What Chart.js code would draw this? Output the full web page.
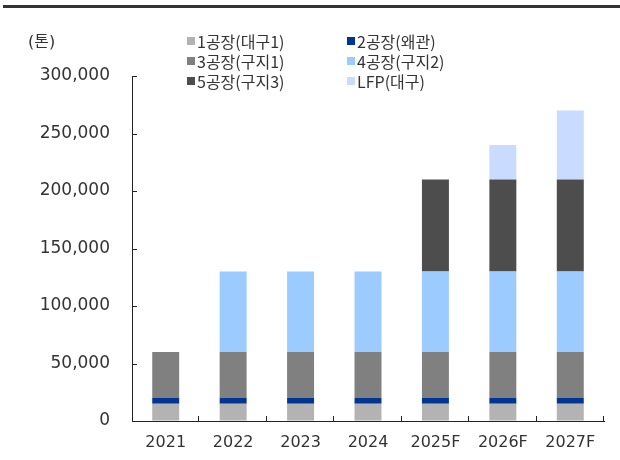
<!DOCTYPE html>
<html>
<head>
<meta charset="utf-8">
<script src="https://cdn.jsdelivr.net/npm/chart.js@4"></script>
<style>
	html, body { margin: 0; padding: 0; background: #fff; }
	#wrap { width: 620px; height: 460px; position: relative; }
</style>
</head>
<body>
<div id="wrap"><canvas id="capacityChart"></canvas></div>
<script>
	const years = ['2021', '2022', '2023', '2024', '2025F', '2026F', '2027F'];
	const seriesNames = ['1공장(대구1)', '2공장(왜관)', '3공장(구지1)', '4공장(구지2)', '5공장(구지3)', 'LFP(대구)'];
	const seriesColors = ['#b3b3b3', '#003591', '#808080', '#9ccbff', '#4d4d4d', '#c9dbff'];
	const plant1 = [15000, 15000, 15000, 15000, 15000, 15000, 15000];
	const plant2 = [5000, 5000, 5000, 5000, 5000, 5000, 5000];
	const plant3 = [40000, 40000, 40000, 40000, 40000, 40000, 40000];
	const plant4 = [0, 70000, 70000, 70000, 70000, 70000, 70000];
	const plant5 = [0, 0, 0, 0, 80000, 80000, 80000];
	const lfp = [0, 0, 0, 0, 0, 30000, 60000];
	const yTicks = [0, 50000, 100000, 150000, 200000, 250000, 300000];
	const unitLabel = '(톤)';

	const fontFamily = '"DejaVu Sans", "Noto Sans CJK KR", sans-serif';
	const textColor = '#333';
	const axisColor = '#222';

	const seriesValues = [plant1, plant2, plant3, plant4, plant5, lfp];
	const numberFormatter = new Intl.NumberFormat('en-US');

	// top rule, unit label, two-column legend and inward tick marks
	const decorPlugin = {
		id: 'decor',
		afterDraw(chart) {
			const ctx = chart.ctx;
			const area = chart.chartArea;
			ctx.save();

			ctx.fillStyle = '#333';
			ctx.fillRect(3, 5, 617, 3);

			ctx.fillStyle = textColor;
			ctx.font = '16px ' + fontFamily;
			ctx.textBaseline = 'middle';
			ctx.textAlign = 'left';
			ctx.fillText(unitLabel, 28, 43);

			chart.data.datasets.forEach((ds, i) => {
				const col = i % 2;
				const row = Math.floor(i / 2);
				const x = col === 0 ? 187 : 347;
				const y = 41 + row * 20;
				ctx.fillStyle = ds.backgroundColor;
				ctx.fillRect(x, y - 4, 8, 8);
				ctx.fillStyle = textColor;
				ctx.font = '16px "Noto Sans CJK KR", ' + fontFamily;
				ctx.fillText(ds.label, x + 10, y + 1);
			});

			ctx.strokeStyle = axisColor;
			ctx.lineWidth = 1;
			ctx.beginPath();
			const yScale = chart.scales.y;
			yScale.ticks.forEach((t) => {
				const py = Math.round(yScale.getPixelForValue(t.value)) + 0.5;
				ctx.moveTo(area.left, py);
				ctx.lineTo(area.left + 5, py);
			});
			const xScale = chart.scales.x;
			const step = (area.right - area.left) / years.length;
			for (let i = 1; i <= years.length; i++) {
				const px = Math.round(area.left + step * i) - 0.5;
				ctx.moveTo(px, area.bottom);
				ctx.lineTo(px, area.bottom - 5);
			}
			ctx.stroke();
			ctx.restore();
		}
	};

	new Chart(document.getElementById('capacityChart'), {
		type: 'bar',
		data: {
			labels: years,
			datasets: seriesNames.map((name, i) => ({
				label: name,
				data: seriesValues[i],
				backgroundColor: seriesColors[i],
				borderWidth: 0,
				categoryPercentage: 1,
				barPercentage: 0.4
			}))
		},
		options: {
			responsive: true,
			maintainAspectRatio: false,
			animation: false,
			layout: {
				padding: { top: 76, right: 16, bottom: 0, left: 0 }
			},
			plugins: {
				legend: { display: false },
				tooltip: { enabled: false }
			},
			scales: {
				x: {
					stacked: true,
					grid: { display: true, drawOnChartArea: false, drawTicks: false },
					border: { display: true, color: axisColor, width: 1 },
					ticks: {
						color: textColor,
						font: { family: fontFamily, size: 16 },
						padding: 12,
						maxRotation: 0
					},
					afterFit(scale) {
						scale.height = 39;
					}
				},
				y: {
					stacked: true,
					min: 0,
					max: 300000,
					grid: { display: true, drawOnChartArea: false, drawTicks: false },
					border: { display: true, color: axisColor, width: 1 },
					afterBuildTicks(scale) {
						scale.ticks = yTicks.map((v) => ({ value: v }));
					},
					ticks: {
						color: textColor,
						font: { family: fontFamily, size: 17 },
						padding: 22,
						callback: function(value) {
							return numberFormatter.format(value);
						}
					},
					afterFit(scale) {
						scale.width = 132;
					}
				}
			}
		},
		plugins: [decorPlugin]
	});
</script>
</body>
</html>
